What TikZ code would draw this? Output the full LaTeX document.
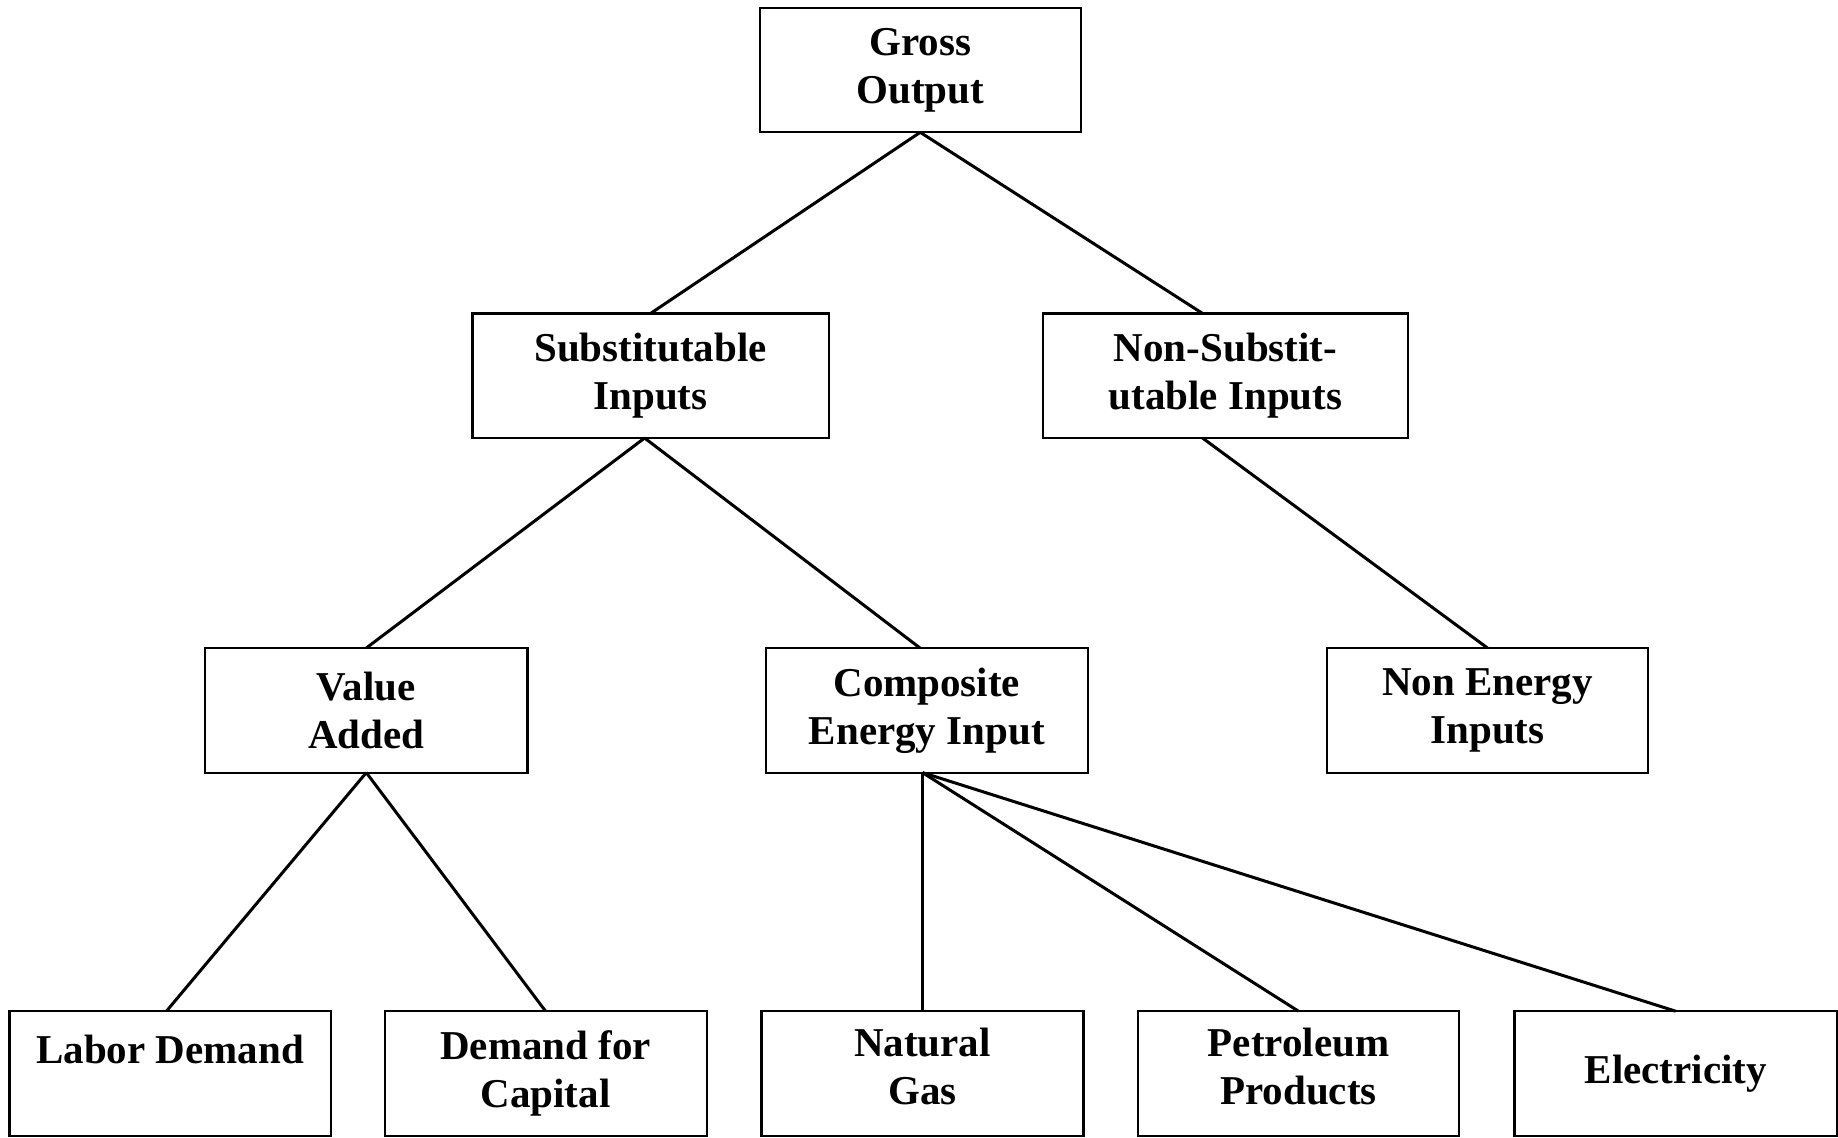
\documentclass[tikz,border=0pt]{standalone}
\usepackage{fontspec}
\newfontfamily\boxfont{Liberation Serif}
\begin{document}
\begin{tikzpicture}[x=0.5pt,y=-0.5pt,
  box/.style={draw=black,line width=1.1pt,inner sep=0pt,outer sep=0pt,
    align=center,font=\boxfont\bfseries\fontsize{20.5}{24}\selectfont,
    minimum height=62.3pt},
  link/.style={draw=black,line width=1.5pt}]
\useasboundingbox[fill=white] (0,0) rectangle (1838,1137);
\node[box,minimum width=160.5pt] (go) at (920.2,70) {Gross\\Output};
\node[box,minimum width=178.2pt] (sub) at (650.6,375.7) {Substitutable\\Inputs};
\node[box,minimum width=182.5pt] (ns) at (1225.5,375.7) {Non-Substit-\\utable Inputs};
\node[box,minimum width=161.2pt] (va) at (366.3,710.3) {Value\\Added};
\node[box,minimum width=161.2pt] (ce) at (926.8,710.3) {Composite\\Energy Input};
\node[box,minimum width=160.5pt] (ne) at (1487.5,710.3) {Non Energy\\Inputs};
\node[box,minimum width=160.6pt] (lab) at (170,1073.5) {Labor Demand\\\mbox{}};
\node[box,minimum width=161pt] (cap) at (545.6,1073.5) {Demand for\\Capital};
\node[box,minimum width=161pt] (ng) at (922.5,1073.5) {Natural\\Gas\strut};
\node[box,minimum width=160.5pt] (pp) at (1298.5,1073.5) {Petroleum\\Products\strut};
\node[box,minimum width=161.2pt] (el) at (1675.7,1073.5) {Electricity};
\draw[link] (go.south) -- (sub.north);
\draw[link] (go.south) -- ([xshift=-11.5pt]ns.north);
\draw[link] ([xshift=-3pt]sub.south) -- (va.north);
\draw[link] ([xshift=-3pt]sub.south) -- ([xshift=-3.4pt]ce.north);
\draw[link] ([xshift=-11.5pt]ns.south) -- (ne.north);
\draw[link] (va.south) -- ([xshift=-1.8pt]lab.north);
\draw[link] (va.south) -- (cap.north);
\draw[link] ([xshift=-2.15pt]ce.south) -- (ng.north);
\draw[link] ([xshift=-2.15pt]ce.south) -- (pp.north);
\draw[link] ([xshift=-2.15pt]ce.south) -- (el.north);
\end{tikzpicture}
\end{document}
